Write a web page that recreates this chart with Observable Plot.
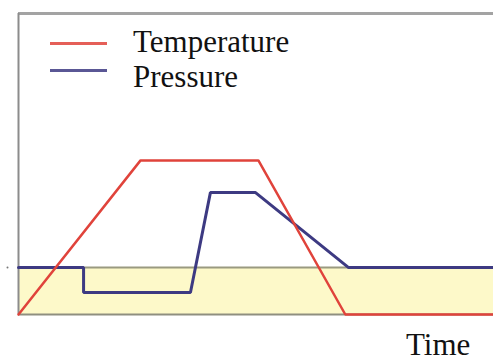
<!DOCTYPE html>
<html>
<head>
<meta charset="utf-8">
<script src="https://cdn.jsdelivr.net/npm/d3@7"></script>
<script src="https://cdn.jsdelivr.net/npm/@observablehq/plot@0.6"></script>
<style>
  html, body { margin: 0; padding: 0; background: #fff; }
  #wrap { position: relative; width: 493px; height: 358px; overflow: hidden; }
  .sw { position: absolute; height: 3px; }
  .lbl { position: absolute; white-space: nowrap; font-family: 'Liberation Serif', serif; font-size: 18px; line-height: 18px; color: #111; transform: scale(1.722); }
</style>
</head>
<body>
<div id="wrap"></div>
<script>
// Time (arbitrary units, 0..100 across the visible frame)
const tempTime  = [0, 25.7, 50.5, 68.8, 100];
const tempValue = [0, 51.2, 51.2, 0, 0];

const presTime  = [0, 13.7, 13.7, 36.2, 40.4, 49.9, 69.5, 100];
const presValue = [15.6, 15.6, 7.3, 7.3, 40.5, 40.5, 15.6, 15.6];

const bandLow = 0, bandHigh = 15.6;   // acceptable (shaded) range
const yTop = 100;

const seriesNames = ["Temperature", "Pressure"];
const seriesColors = ["#e0433b", "#3d3a82"];
const xLabel = "Time";

const temp = tempTime.map((t, i) => ({t, v: tempValue[i]}));
const pres = presTime.map((t, i) => ({t, v: presValue[i]}));

const chart = Plot.plot({
  width: 493,
  height: 358,
  marginLeft: 18,
  marginRight: 0,
  marginTop: 13,
  marginBottom: 44,
  x: {domain: [0, 100], axis: null},
  y: {domain: [0, yTop], axis: null},
  style: {fontFamily: "'Liberation Serif', serif", background: "#fff"},
  marks: [
    Plot.rect([{x1: 0, x2: 100, y1: bandLow, y2: bandHigh}], {x1: "x1", x2: "x2", y1: "y1", y2: "y2", fill: "#fdf9c9"}),
    Plot.ruleY([bandHigh], {stroke: "#9a9a80", strokeWidth: 2}),
    Plot.ruleY([bandLow], {stroke: "#8f8f80", strokeWidth: 2}),
    Plot.ruleY([yTop], {stroke: "#a3a3a3", strokeWidth: 3}),
    Plot.ruleX([0], {stroke: "#8c8c8c", strokeWidth: 2}),
    Plot.dot([bandHigh], {y: d => d, frameAnchor: "left", dx: -11, r: 1, fill: "#777", stroke: null}),
    Plot.line(pres, {x: "t", y: "v", stroke: seriesColors[1], strokeWidth: 3, strokeLinejoin: "miter"}),
    Plot.line(temp, {x: "t", y: "v", stroke: seriesColors[0], strokeWidth: 2.5, strokeLinejoin: "miter"})
  ]
});

const wrap = document.getElementById("wrap");
wrap.appendChild(chart);

// legend: swatches + labels
seriesNames.forEach((name, i) => {
  const sw = document.createElement("div");
  sw.className = "sw";
  sw.style.left = "50px";
  sw.style.width = "57px";
  sw.style.top = (i === 0 ? 42 : 69) + "px";
  sw.style.background = seriesColors[i];
  sw.style.opacity = 0.85;
  wrap.appendChild(sw);

  const lb = document.createElement("div");
  lb.className = "lbl";
  lb.style.left = "133px";
  lb.style.top = (i === 0 ? 26 : 61) + "px";
  lb.style.transformOrigin = "0 0";
  lb.textContent = name;
  wrap.appendChild(lb);
});

// x-axis title
const xt = document.createElement("div");
xt.className = "lbl";
xt.style.right = "23px";
xt.style.top = "329px";
xt.style.transformOrigin = "100% 0";
xt.textContent = xLabel;
wrap.appendChild(xt);
</script>
</body>
</html>
